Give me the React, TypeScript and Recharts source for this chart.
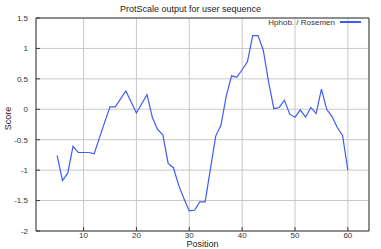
import { LineChart, Line, XAxis, YAxis, CartesianGrid, Label } from "recharts";

const TITLE = "ProtScale output for user sequence";
const SERIES_NAME = "Hphob. / Rosemen";

const positions = [
    5, 6, 7, 8, 9, 10, 11, 12, 13, 14, 15, 16, 17, 18, 19, 20, 21, 22, 23, 24,
    25, 26, 27, 28, 29, 30, 31, 32, 33, 34, 35, 36, 37, 38, 39, 40, 41, 42, 43,
    44, 45, 46, 47, 48, 49, 50, 51, 52, 53, 54, 55, 56, 57, 58, 59, 60,
];
const scores = [
    -0.76, -1.17, -1.05, -0.61, -0.71, -0.71, -0.71, -0.73, -0.47, -0.21, 0.04,
    0.04, 0.17, 0.3, 0.12, -0.06, 0.09, 0.24, -0.13, -0.33, -0.42, -0.89, -0.96,
    -1.25, -1.47, -1.67, -1.66, -1.52, -1.52, -0.98, -0.44, -0.26, 0.22, 0.55,
    0.53, 0.65, 0.78, 1.21, 1.21, 0.97, 0.45, 0.01, 0.03, 0.15, -0.08, -0.13,
    -0.01, -0.13, 0.03, -0.07, 0.33, 0.0, -0.12, -0.3, -0.43, -1.0,
];
const xTicks = [10, 20, 30, 40, 50, 60];
const yTicks = [-2, -1.5, -1, -0.5, 0, 0.5, 1, 1.5];
const xDomain = [1, 64];
const yDomain = [-2, 1.5];

const LINE_COLOR = "#3d5cf8";
const FRAME = "#3a3a3a";
const FONT = "'Liberation Sans', Arial, sans-serif";

const data = positions.map((p, i) => ({ position: p, score: scores[i] }));

const tickStyle = { fontSize: 8, fill: "#333", fontFamily: FONT };

export default function App() {
    return (
        <div style={{ position: "absolute", left: 0, top: 0, width: 381, height: 249, fontFamily: FONT }}>
            <LineChart width={381} height={249} data={data} margin={{ top: 0, right: 0, bottom: 0, left: 0 }}>
                <CartesianGrid stroke="#c8c8c8" />
                <XAxis
                    dataKey="position"
                    type="number"
                    domain={xDomain}
                    ticks={xTicks}
                    allowDataOverflow
                    height={18}
                    tickSize={-4}
                    tickMargin={5}
                    tick={tickStyle}
                    stroke={FRAME}
                    tickLine={{ stroke: FRAME }}
                >
                    <Label
                        value="Position"
                        position="insideBottom"
                        offset={2}
                        style={{ fontSize: 9, fill: "#222", fontFamily: FONT }}
                    />
                </XAxis>
                <XAxis
                    xAxisId="top"
                    orientation="top"
                    type="number"
                    domain={xDomain}
                    ticks={xTicks}
                    allowDataOverflow
                    height={18}
                    tickSize={-4}
                    tick={false}
                    stroke={FRAME}
                    tickLine={{ stroke: FRAME }}
                />
                <YAxis
                    type="number"
                    domain={yDomain}
                    ticks={yTicks}
                    allowDataOverflow
                    width={36}
                    tickSize={-4}
                    tickMargin={12}
                    tick={tickStyle}
                    stroke={FRAME}
                    tickLine={{ stroke: FRAME }}
                >
                    <Label
                        content={({ viewBox }: any) => (
                            <text
                                x={9}
                                y={viewBox.y + viewBox.height / 2 - 6}
                                transform={`rotate(-90 9 ${viewBox.y + viewBox.height / 2 - 6})`}
                                textAnchor="middle"
                                dominantBaseline="middle"
                                style={{ fontSize: 9, fill: "#222", fontFamily: FONT }}
                            >
                                Score
                            </text>
                        )}
                    />
                </YAxis>
                <YAxis
                    yAxisId="right"
                    orientation="right"
                    type="number"
                    domain={yDomain}
                    ticks={yTicks}
                    allowDataOverflow
                    width={12}
                    tickSize={-4}
                    tick={false}
                    stroke={FRAME}
                    tickLine={{ stroke: FRAME }}
                />
                <Line
                    type="linear"
                    dataKey="score"
                    name={SERIES_NAME}
                    stroke={LINE_COLOR}
                    strokeWidth={1.2}
                    dot={false}
                    isAnimationActive={false}
                />
            </LineChart>
            <div
                style={{
                    position: "absolute",
                    top: 3,
                    left: 0,
                    width: 381,
                    textAlign: "center",
                    fontSize: 9,
                    lineHeight: "12px",
                    color: "#222",
                }}
            >
                {TITLE}
            </div>
            <div
                style={{
                    position: "absolute",
                    top: 17,
                    left: 240,
                    width: 121,
                    height: 10,
                    display: "flex",
                    justifyContent: "flex-end",
                    alignItems: "center",
                    fontSize: 8,
                    color: "#333",
                    whiteSpace: "pre",
                }}
            >
                <span>{SERIES_NAME}</span>
                <span style={{ display: "inline-block", width: 21, height: 1.3, background: LINE_COLOR, marginLeft: 5 }} />
            </div>
        </div>
    );
}
